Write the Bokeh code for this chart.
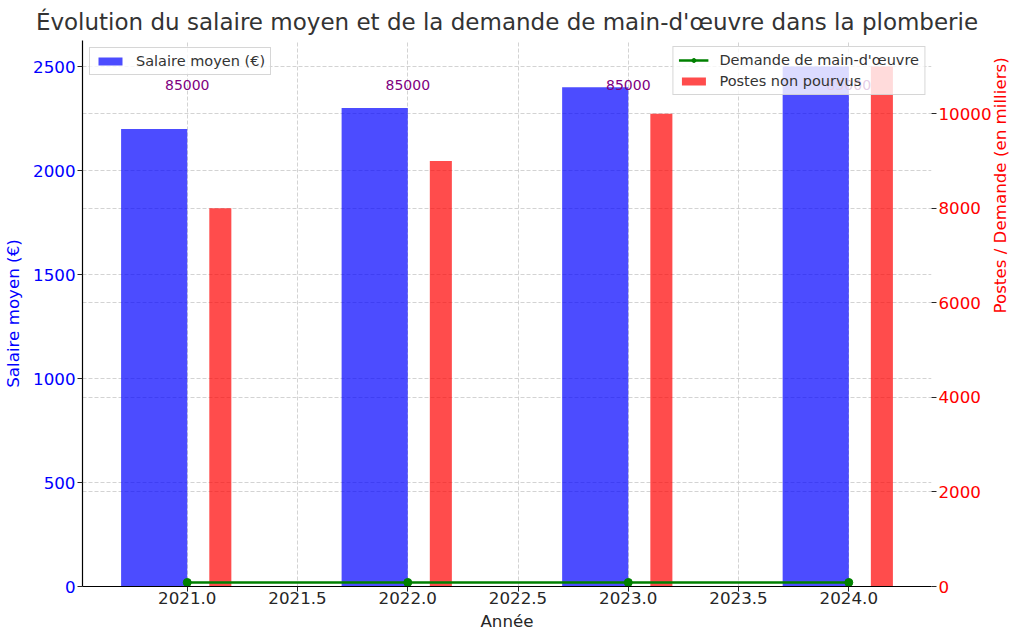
import math
from bokeh.plotting import figure
from bokeh.models import (Range1d, LinearAxis, FixedTicker, PrintfTickFormatter,
                          Legend, LegendItem, Grid, ColumnDataSource)
from bokeh.core.properties import value
from bokeh.embed import file_html
from bokeh.resources import INLINE

# ---- data ----
annees = [2021, 2022, 2023, 2024]
salaire_moyen = [2200, 2300, 2400, 2500]          # €
postes_non_pourvus = [8000, 9000, 10000, 11000]   # en milliers
demande_main_oeuvre = [85, 85, 85, 85]            # en milliers
demande_labels = ["85000", "85000", "85000", "85000"]
x_ticks = [2021.0, 2021.5, 2022.0, 2022.5, 2023.0, 2023.5, 2024.0]
left_ticks = [0, 500, 1000, 1500, 2000, 2500]
right_ticks = [0, 2000, 4000, 6000, 8000, 10000]

FONT = "DejaVu Sans"
TXT = "#262626"

p = figure(frame_width=849, frame_height=546, output_backend="svg",
           toolbar_location=None, x_range=Range1d(2020.525, 2024.375),
           y_range=Range1d(0, 2625), min_border_left=0, min_border_right=0,
           min_border_top=0, min_border_bottom=0)
p.extra_y_ranges = {"right": Range1d(0, 11550)}
p.outline_line_color = None
p.background_fill_color = "white"
p.border_fill_color = "white"

p.title.text = "Évolution du salaire moyen et de la demande de main-d'œuvre dans la plomberie"
p.title.align = "center"
p.title.text_font = FONT
p.title.text_font_size = "23px"
p.title.text_font_style = "normal"
p.title.text_color = "#333333"
try:
    p.title.padding = 5
    p.title.standoff = 2
except Exception:
    p.title.standoff = 12

# grids
p.xgrid.ticker = FixedTicker(ticks=x_ticks)
p.ygrid.ticker = FixedTicker(ticks=left_ticks)
for g in (p.xgrid, p.ygrid):
    g.grid_line_color = "#c8c8c8"
    g.grid_line_dash = "4 2"
    g.grid_line_width = 0.8
g2 = Grid(dimension=1, y_range_name="right", ticker=FixedTicker(ticks=right_ticks),
          grid_line_color="#c8c8c8", grid_line_dash="4 2", grid_line_width=0.8)
p.add_layout(g2)

# bars
src_s = ColumnDataSource(dict(x=[a - 0.15 for a in annees], top=salaire_moyen))
src_p = ColumnDataSource(dict(x=[a + 0.15 for a in annees], top=postes_non_pourvus))
rb = p.vbar(x="x", top="top", width=0.3, source=src_s, fill_color="blue",
            fill_alpha=0.7, line_color=None)
rr = p.vbar(x="x", top="top", width=0.1, source=src_p, fill_color="red",
            fill_alpha=0.7, line_color=None, y_range_name="right")

# line
src_d = ColumnDataSource(dict(x=annees, y=demande_main_oeuvre))
rl = p.line(x="x", y="y", source=src_d, line_color="green", line_width=2.5,
            y_range_name="right")
rm = p.scatter(x="x", y="y", source=src_d, marker="circle", size=8,
               fill_color="green", line_color="green", y_range_name="right")

# labels
src_t = ColumnDataSource(dict(x=annees, y=[2410] * len(annees), lab=demande_labels))
p.text(x="x", y="y", text="lab", source=src_t, text_align="center",
       text_baseline="middle", text_color="purple", text_font=value(FONT),
       text_font_size="14px")

# axes
xa = p.xaxis[0]
xa.ticker = FixedTicker(ticks=x_ticks)
xa.formatter = PrintfTickFormatter(format="%.1f")
xa.axis_label = "Année"
ya = p.yaxis[0]
ya.ticker = FixedTicker(ticks=left_ticks)
ya.axis_label = "Salaire moyen (€)"
ra = LinearAxis(y_range_name="right", ticker=FixedTicker(ticks=right_ticks),
                axis_label="Postes / Demande (en milliers)")
p.add_layout(ra, "right")

for ax, col in ((xa, TXT), (ya, "blue"), (ra, "red")):
    ax.major_label_text_font = FONT
    ax.major_label_text_font_size = "16.7px"
    ax.major_label_text_color = col
    ax.axis_label_text_font = FONT
    ax.axis_label_text_font_size = "16.7px"
    ax.axis_label_text_font_style = "normal"
    ax.axis_label_text_color = col
    ax.minor_tick_line_color = None
    ax.major_tick_out = 5
    ax.major_tick_in = 0
    ax.major_tick_line_color = "#262626"
    ax.axis_line_color = "black"
    ax.axis_line_width = 1.2
ra.axis_line_color = None
xa.major_label_standoff = 0
xa.axis_label_standoff = 4
ya.major_label_standoff = 2
ya.axis_label_standoff = 7
ra.major_label_standoff = 2
ra.axis_label_standoff = 5
try:
    ra.axis_label_orientation = math.pi / 2
    ra.axis_label_text_align = "center"
except Exception:
    pass

# legends
def style(leg):
    leg.label_text_font = FONT
    leg.label_text_font_size = "14.5px"
    leg.label_text_color = "#333333"
    leg.background_fill_alpha = 0.8
    leg.border_line_color = "#cccccc"
    leg.border_line_alpha = 0.8
    leg.glyph_width = 30
    leg.glyph_height = 10
    leg.label_height = 16
    leg.label_standoff = 11
    leg.padding = 5
    leg.spacing = 5
    leg.margin = 7

leg1 = Legend(items=[LegendItem(label="Salaire moyen (€)", renderers=[rb])],
              location="top_left")
leg2 = Legend(items=[LegendItem(label="Demande de main-d'œuvre", renderers=[rl, rm]),
                     LegendItem(label="Postes non pourvus", renderers=[rr])],
              location="top_right")
style(leg1)
style(leg2)
leg2.margin = 6
p.add_layout(leg1, "center")
p.add_layout(leg2, "center")

open("out.html", "w").write(file_html(p, INLINE))
